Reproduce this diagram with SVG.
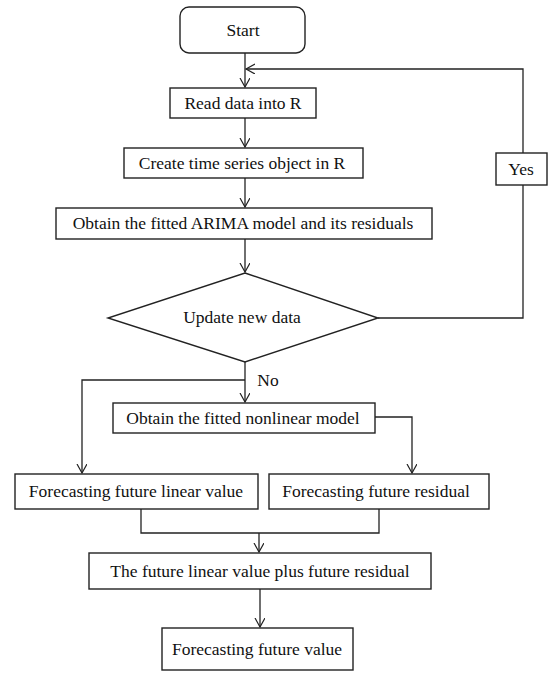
<svg xmlns="http://www.w3.org/2000/svg" width="550" height="675" viewBox="0 0 550 675">
<defs>
<marker id="arr" markerUnits="userSpaceOnUse" markerWidth="12" markerHeight="12" refX="9" refY="5" orient="auto">
<path d="M0,0 L9,5 L0,10" fill="none" stroke="#222" stroke-width="1.2"/>
</marker>
</defs>
<style>
.box{fill:#fff;stroke:#222;stroke-width:1.4}
.t{font-family:"Liberation Serif","Times New Roman",serif;font-size:17.5px;fill:#111;text-anchor:middle}
.c{fill:none;stroke:#222;stroke-width:1.3}
</style>
<rect width="550" height="675" fill="#fff"/>
<g id="connectors">
<path class="c" d="M245,53 V87" marker-end="url(#arr)"/>
<path class="c" d="M378,318 H523 V69 H246" marker-end="url(#arr)"/>
<path class="c" d="M245,118 V147" marker-end="url(#arr)"/>
<path class="c" d="M245,178 V207" marker-end="url(#arr)"/>
<path class="c" d="M245,239 V272" marker-end="url(#arr)"/>
<path class="c" d="M245,362 V402" marker-end="url(#arr)"/>
<path class="c" d="M245,380 H82 V473" marker-end="url(#arr)"/>
<path class="c" d="M375,417 H412 V473" marker-end="url(#arr)"/>
<path class="c" d="M141,509 V533 H379 V509"/>
<path class="c" d="M259,533 V552" marker-end="url(#arr)"/>
<path class="c" d="M260,589 V627" marker-end="url(#arr)"/>
</g>
<g id="yes">
<rect class="box" x="496" y="153" width="51" height="32"/>
<text class="t" x="521" y="175">Yes</text>
</g>
<g id="no">
<text class="t" x="268" y="386">No</text>
</g>
<g id="start">
<rect class="box" x="180" y="7" width="125" height="46" rx="9"/>
<text class="t" x="243" y="36">Start</text>
</g>
<g id="read">
<rect class="box" x="170" y="88" width="146" height="30"/>
<text class="t" x="243" y="109">Read data into R</text>
</g>
<g id="create">
<rect class="box" x="124" y="148" width="239" height="30"/>
<text class="t" x="242" y="169">Create time series object in R</text>
</g>
<g id="arima">
<rect class="box" x="56" y="208" width="376" height="31"/>
<text class="t" x="243" y="229">Obtain the fitted ARIMA model and its residuals</text>
</g>
<g id="update">
<polygon class="box" points="245,273 378,318 245,362 108,318"/>
<text class="t" x="242" y="323">Update new data</text>
</g>
<g id="nonlinear">
<rect class="box" x="113" y="403" width="262" height="30"/>
<text class="t" x="243" y="424">Obtain the fitted nonlinear model</text>
</g>
<g id="linear">
<rect class="box" x="15" y="474" width="243" height="35"/>
<text class="t" x="136" y="497">Forecasting future linear value</text>
</g>
<g id="residual">
<rect class="box" x="269" y="474" width="220" height="35"/>
<text class="t" x="376" y="497">Forecasting future residual</text>
</g>
<g id="plus">
<rect class="box" x="89" y="553" width="342" height="36"/>
<text class="t" x="260" y="577">The future linear value plus future residual</text>
</g>
<g id="final">
<rect class="box" x="162" y="628" width="191" height="42"/>
<text class="t" x="257" y="655">Forecasting future value</text>
</g>
</svg>
